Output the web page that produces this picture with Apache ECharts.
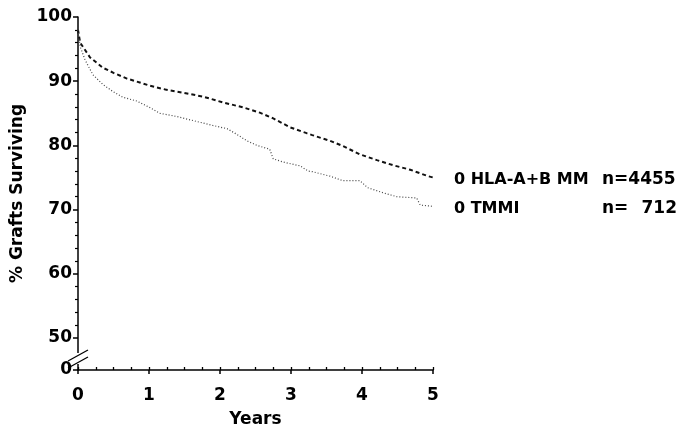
<!DOCTYPE html>
<html>
<head>
<meta charset="utf-8">
<script src="https://cdn.jsdelivr.net/npm/echarts@6/dist/echarts.min.js"></script>
<style>
html, body { margin: 0; padding: 0; background: #fff; }
#main { width: 680px; height: 433px; }
</style>
</head>
<body>
<div id="main"></div>
<script>
// 0 HLA-A+B MM (n=4455), dashed
var yearsHla = [0, 0.03, 0.17, 0.35, 0.5, 0.69, 0.87, 1.01, 1.23, 1.48, 1.76, 2.04, 2.33, 2.56, 2.75, 2.99, 3.22, 3.3, 3.55, 3.73, 3.97, 4.21, 4.44, 4.68, 4.93, 5];
var survHla = [98, 96.0, 93.7, 92.1, 91.3, 90.4, 89.8, 89.3, 88.7, 88.2, 87.6, 86.7, 85.9, 85.1, 84.2, 82.8, 81.9, 81.6, 80.7, 79.9, 78.6, 77.7, 76.9, 76.2, 75.2, 75.0];
// 0 TMMI (n=712), dotted
var yearsTmmi = [0, 0.03, 0.1, 0.21, 0.35, 0.49, 0.63, 0.83, 1.01, 1.15, 1.39, 1.68, 1.9, 2.1, 2.24, 2.38, 2.52, 2.7, 2.75, 2.89, 3.13, 3.24, 3.3, 3.55, 3.73, 3.97, 4.08, 4.3, 4.49, 4.77, 4.82, 5];
var survTmmi = [98, 95.4, 93.3, 91.0, 89.5, 88.4, 87.5, 86.9, 85.9, 85.0, 84.5, 83.7, 83.1, 82.6, 81.7, 80.7, 80.0, 79.4, 77.9, 77.4, 76.8, 76.0, 75.9, 75.2, 74.5, 74.5, 73.4, 72.6, 72.0, 71.8, 70.7, 70.5];

// y axis is broken: bottom of axis (45) stands for 0
var yLabelValues = [45, 50, 60, 70, 80, 90, 100];
var yMinorValues = [52, 54, 56, 58, 62, 64, 66, 68, 72, 74, 76, 78, 82, 84, 86, 88, 92, 94, 96, 98];

var legendNames = ['0 HLA-A+B MM', '0 TMMI'];
var legendCounts = ['4455', '712'];

function pairs(xs, ys) {
	var out = [];
	for (var i = 0; i < xs.length; i++) {
		out.push([xs[i], ys[i]]);
	}
	return out;
}

var font = 'DejaVu Sans';
var chart = echarts.init(document.getElementById('main'));
var option = {
	animation : false,
	backgroundColor : '#fff',
	grid : {
		left : 78,
		right : 247,
		top : 17,
		bottom : 61
	},
	xAxis : [
		{
			type : 'value',
			min : 0,
			max : 5,
			interval : 1,
			name : 'Years',
			nameLocation : 'middle',
			nameGap : 41,
			nameTextStyle : { color : '#000', fontFamily : font, fontWeight : 'bold', fontSize : 17 },
			axisLine : { lineStyle : { color : '#000', width : 1.5 } },
			axisTick : { length : 4, lineStyle : { color : '#000', width : 1.5 } },
			axisLabel : { color : '#000', fontFamily : font, fontWeight : 'bold', fontSize : 17, margin : 17 },
			splitLine : { show : false }
		}, {
			// small ticks every quarter year, pointing up
			type : 'value',
			position : 'bottom',
			min : 0,
			max : 5,
			interval : 0.25,
			axisLine : { show : false },
			axisTick : { inside : true, length : 3, lineStyle : { color : '#000', width : 1.3 } },
			axisLabel : { show : false },
			splitLine : { show : false }
		}
	],
	yAxis : [
		{
			type : 'value',
			min : 45,
			max : 100,
			name : '% Grafts Surviving',
			nameLocation : 'middle',
			nameGap : 52,
			nameTextStyle : { color : '#000', fontFamily : font, fontWeight : 'bold', fontSize : 17 },
			axisLine : { show : true, lineStyle : { color : '#000', width : 1.5 } },
			axisTick : { customValues : yLabelValues, length : 5, lineStyle : { color : '#000', width : 1.5 } },
			axisLabel : {
				customValues : yLabelValues,
				color : '#000',
				fontFamily : font,
				fontWeight : 'bold',
				fontSize : 17,
				margin : 6,
				formatter : function(v) {
					return v == 45 ? '0' : String(v);
				}
			},
			splitLine : { show : false }
		}, {
			type : 'value',
			position : 'left',
			min : 45,
			max : 100,
			axisLine : { show : false },
			axisTick : { customValues : yMinorValues, length : 3, lineStyle : { color : '#000', width : 1.2 } },
			axisLabel : { show : false },
			splitLine : { show : false }
		}
	],
	series : [
		{
			name : legendNames[0],
			type : 'line',
			showSymbol : false,
			data : pairs(yearsHla, survHla),
			lineStyle : { color : '#111', width : 2, type : [4, 3] }
		}, {
			name : legendNames[1],
			type : 'line',
			showSymbol : false,
			data : pairs(yearsTmmi, survTmmi),
			lineStyle : { color : '#444', width : 1.2, type : [1, 2] }
		}
	],
	graphic : [
		// break marks on the y axis
		{ type : 'rect', shape : { x : 74, y : 353, width : 8, height : 11 }, style : { fill : '#fff' }, z : 100 },
		{ type : 'line', shape : { x1 : 68, y1 : 361, x2 : 88, y2 : 350 }, style : { stroke : '#000', lineWidth : 1.3 }, z : 101 },
		{ type : 'line', shape : { x1 : 68, y1 : 368, x2 : 88, y2 : 357 }, style : { stroke : '#000', lineWidth : 1.3 }, z : 101 },
		// legend text
		{ type : 'text', left : 454, top : 172, style : { text : legendNames[0], fill : '#000', font : 'bold 16px "DejaVu Sans"' } },
		{ type : 'text', left : 454, top : 201, style : { text : legendNames[1], fill : '#000', font : 'bold 16px "DejaVu Sans"' } },
		{ type : 'text', left : 602, top : 171, style : { text : 'n=' + legendCounts[0], fill : '#000', font : 'bold 17px "DejaVu Sans"' } },
		{ type : 'text', left : 602, top : 200, style : { text : 'n=', fill : '#000', font : 'bold 17px "DejaVu Sans"' } },
		{ type : 'text', right : 3, top : 200, style : { text : legendCounts[1], fill : '#000', font : 'bold 17px "DejaVu Sans"' } }
	]
};
chart.setOption(option);
</script>
</body>
</html>
